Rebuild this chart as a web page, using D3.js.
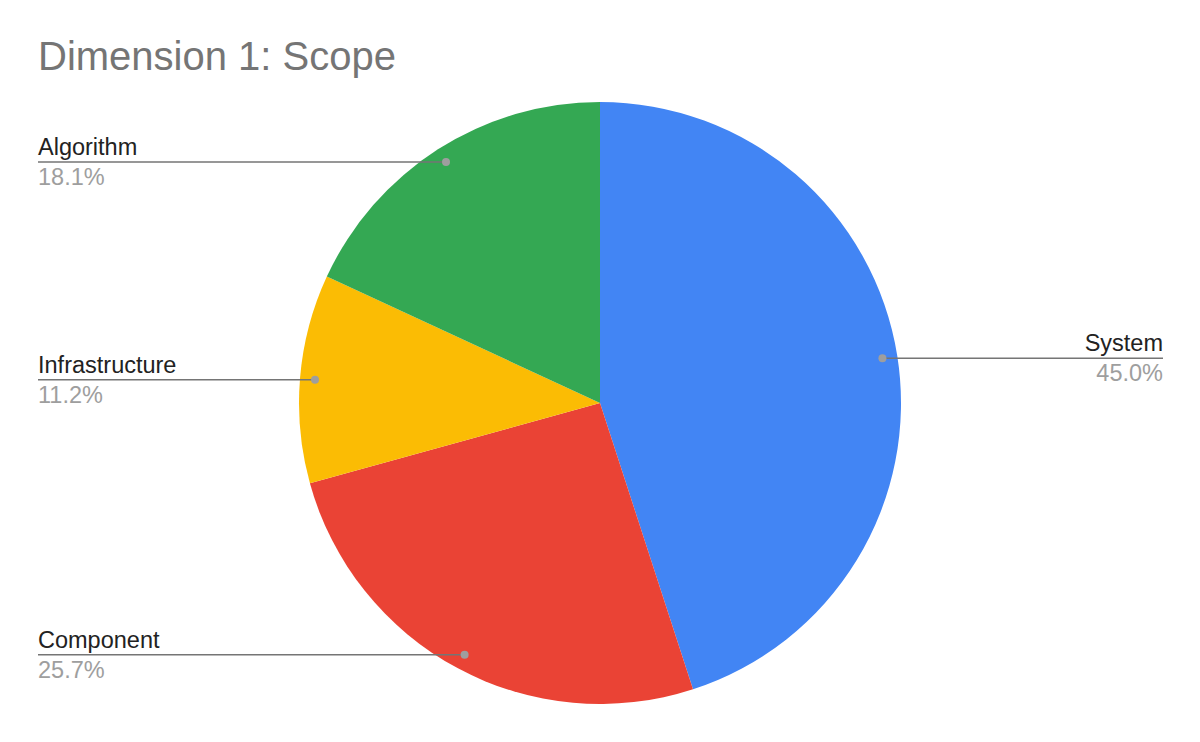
<!DOCTYPE html>
<html lang="en">
  <head>
    <meta charset="UTF-8" />
    <title>Dimension 1: Scope</title>
    <script src="https://cdnjs.cloudflare.com/ajax/libs/d3/7.8.5/d3.min.js"></script>
    <style>
      body {
        margin: 0;
        background: #fff;
      }
      svg text {
        font-family: 'Liberation Sans', Arial, sans-serif;
      }
    </style>
  </head>
  <body>
    <svg width="1200" height="742"></svg>
    <script>
      // Chart data
      const categories = ['System', 'Component', 'Infrastructure', 'Algorithm'];
      const values = [45.0, 25.7, 11.2, 18.1];
      const colors = ['#4285f4', '#ea4335', '#fbbc04', '#34a853'];

      const svg = d3.select('svg');

      const cx = 600,
        cy = 403,
        radius = 301;

      svg
        .append('text')
        .attr('x', 38)
        .attr('y', 70)
        .attr('fill', '#757575')
        .style('font-size', '40px')
        .text('Dimension 1: Scope');

      const data = categories.map((c, i) => ({ name: c, value: values[i], color: colors[i] }));

      const pie = d3.pie().sort(null).value(d => d.value);
      const arc = d3.arc().innerRadius(0).outerRadius(radius);
      const dotArc = d3.arc().innerRadius(radius * 0.95).outerRadius(radius * 0.95);

      const arcs = pie(data);
      const g = svg.append('g').attr('transform', `translate(${cx},${cy})`);

      g.selectAll('path.slice')
        .data(arcs)
        .enter()
        .append('path')
        .attr('class', 'slice')
        .attr('d', arc)
        .attr('fill', d => d.data.color);

      // Labels with leader lines
      const total = d3.sum(values);
      const labels = svg.append('g');
      arcs.forEach(d => {
        const [px, py] = dotArc.centroid(d);
        const x = cx + px,
          y = cy + py;
        const mid = (d.startAngle + d.endAngle) / 2;
        const right = mid < Math.PI;
        const edge = right ? 1163 : 38;

        labels
          .append('line')
          .attr('x1', x)
          .attr('y1', y)
          .attr('x2', edge)
          .attr('y2', y)
          .attr('stroke', '#757575')
          .attr('stroke-width', 1.5);
        labels
          .append('circle')
          .attr('cx', x)
          .attr('cy', y)
          .attr('r', 4)
          .attr('fill', '#9e9e9e');
        labels
          .append('text')
          .attr('x', edge)
          .attr('y', y - 7)
          .attr('text-anchor', right ? 'end' : 'start')
          .attr('fill', '#222')
          .style('font-size', '23.5px')
          .text(d.data.name);
        labels
          .append('text')
          .attr('x', edge)
          .attr('y', y + 23)
          .attr('text-anchor', right ? 'end' : 'start')
          .attr('fill', '#9e9e9e')
          .style('font-size', '23.5px')
          .text(((d.data.value / total) * 100).toFixed(1) + '%');
      });
    </script>
  </body>
</html>
